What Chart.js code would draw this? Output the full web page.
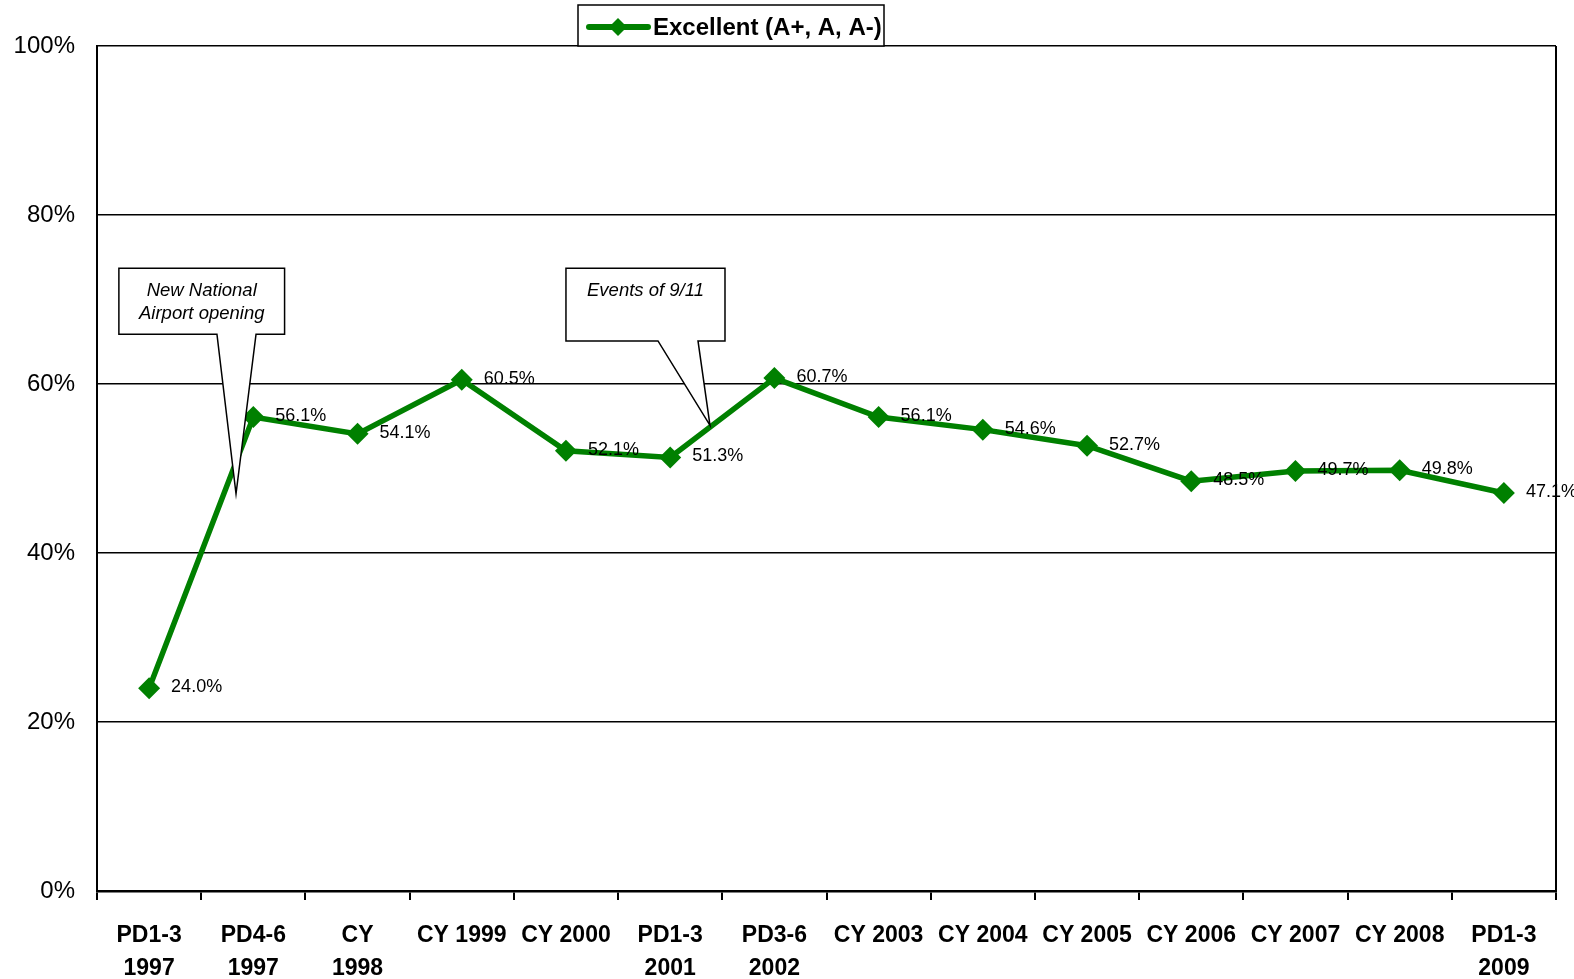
<!DOCTYPE html>
<html lang="en">
<head>
<meta charset="utf-8">
<title>Excellent ratings</title>
<script src="https://cdn.jsdelivr.net/npm/chart.js@4/dist/chart.umd.min.js"></script>
<style>
  html, body { margin: 0; padding: 0; background: #fff; }
  #wrap { width: 1574px; height: 979px; }
</style>
</head>
<body>
<div id="wrap"><canvas id="chart"></canvas></div>
<script>
// data
const periods = [
  ['PD1-3', '1997'], ['PD4-6', '1997'], ['CY', '1998'], 'CY 1999', 'CY 2000',
  ['PD1-3', '2001'], ['PD3-6', '2002'], 'CY 2003', 'CY 2004', 'CY 2005',
  'CY 2006', 'CY 2007', 'CY 2008', ['PD1-3', '2009']
];
const excellent = [24.0, 56.1, 54.1, 60.5, 52.1, 51.3, 60.7, 56.1, 54.6, 52.7, 48.5, 49.7, 49.8, 47.1];
const yTicks = [0, 20, 40, 60, 80, 100];

const green = '#008000';
const font = '"Liberation Sans", Arial, sans-serif';

// callouts, in axis units (category index, percent)
const callouts = [
  { lines: ['New National', 'Airport opening'], x0: -0.29, x1: 1.30, y0: 73.7, y1: 65.9,
    base: [0.651, 1.026], tip: [0.834, 47.0] },
  { lines: ['Events of 9/11'], x0: 4.0, x1: 5.526, y0: 73.7, y1: 65.1,
    base: [4.883, 5.267], tip: [5.382, 55.1] }
];

const extras = {
  id: 'extras',
  afterDatasetsDraw(chart) {
    const ctx = chart.ctx;
    const a = chart.chartArea;
    const xs = chart.scales.x, ys = chart.scales.y;
    ctx.save();
    // right frame line
    ctx.strokeStyle = '#000';
    ctx.lineWidth = 2;
    ctx.beginPath();
    ctx.moveTo(a.right, a.top);
    ctx.lineTo(a.right, a.bottom);
    ctx.stroke();

    // value labels
    const meta = chart.getDatasetMeta(0);
    ctx.fillStyle = '#000';
    ctx.font = '18px ' + font;
    ctx.textAlign = 'left';
    ctx.textBaseline = 'middle';
    meta.data.forEach((pt, i) => {
      ctx.fillText(excellent[i].toFixed(1) + '%', pt.x + 22, pt.y - 1);
    });

    // callouts
    callouts.forEach(c => {
      const l = xs.getPixelForValue(c.x0), r = xs.getPixelForValue(c.x1);
      const t = ys.getPixelForValue(c.y0), b = ys.getPixelForValue(c.y1);
      const b0 = xs.getPixelForValue(c.base[0]), b1 = xs.getPixelForValue(c.base[1]);
      const tx = xs.getPixelForValue(c.tip[0]), ty = ys.getPixelForValue(c.tip[1]);
      ctx.fillStyle = '#fff';
      ctx.strokeStyle = '#000';
      ctx.lineWidth = 1.5;
      ctx.beginPath();
      ctx.moveTo(l, t);
      ctx.lineTo(r, t);
      ctx.lineTo(r, b);
      ctx.lineTo(b1, b);
      ctx.lineTo(tx, ty);
      ctx.lineTo(b0, b);
      ctx.lineTo(l, b);
      ctx.closePath();
      ctx.fill();
      ctx.stroke();
      ctx.fillStyle = '#000';
      ctx.font = 'italic 18.5px ' + font;
      ctx.textAlign = 'center';
      ctx.textBaseline = 'middle';
      c.lines.forEach((s, k) => ctx.fillText(s, (l + r) / 2, t + 23 + k * 23));
    });

    // legend box
    const lx = 578, ly = 5, lw = 306, lh = 41;
    ctx.fillStyle = '#fff';
    ctx.fillRect(lx, ly, lw, lh);
    ctx.strokeStyle = '#000';
    ctx.lineWidth = 1.5;
    ctx.strokeRect(lx, ly, lw, lh);
    ctx.strokeStyle = green;
    ctx.lineWidth = 6;
    ctx.lineCap = 'round';
    ctx.beginPath();
    ctx.moveTo(589, 27);
    ctx.lineTo(648, 27);
    ctx.stroke();
    ctx.fillStyle = green;
    ctx.beginPath();
    ctx.moveTo(618, 18); ctx.lineTo(627, 27); ctx.lineTo(618, 36); ctx.lineTo(609, 27);
    ctx.closePath();
    ctx.fill();
    ctx.fillStyle = '#000';
    ctx.font = 'bold 24px ' + font;
    ctx.textAlign = 'left';
    ctx.textBaseline = 'middle';
    ctx.fillText(chart.data.datasets[0].label, 653, 28);
    ctx.restore();
  }
};

new Chart(document.getElementById('chart'), {
  type: 'line',
  data: {
    labels: periods,
    datasets: [{
      label: 'Excellent (A+, A, A-)',
      data: excellent,
      borderColor: green,
      backgroundColor: green,
      borderWidth: 5.5,
      pointStyle: 'rectRot',
      pointRadius: 11,
      pointHoverRadius: 11,
      pointBackgroundColor: green,
      pointBorderColor: green,
      pointBorderWidth: 0,
      tension: 0
    }]
  },
  options: {
    responsive: true,
    maintainAspectRatio: false,
    animation: false,
    layout: { padding: { top: 46, right: 18, left: 0, bottom: 0 } },
    plugins: {
      legend: { display: false },
      tooltip: { enabled: false }
    },
    scales: {
      x: {
        offset: true,
        grid: {
          offset: true,
          drawOnChartArea: false,
          drawTicks: true,
          tickLength: 9,
          color: '#000',
          lineWidth: 2
        },
        border: { color: '#000', width: 2.5 },
        ticks: {
          color: '#000',
          font: { family: font, size: 23, weight: 'bold', lineHeight: 1.4 },
          padding: 20,
          maxRotation: 0,
          autoSkip: false
        },
        afterFit(scale) { scale.height = 88; }
      },
      y: {
        min: 0,
        max: 100,
        afterBuildTicks(scale) { scale.ticks = yTicks.map(v => ({ value: v })); },
        grid: { color: '#000', lineWidth: 1.5, drawTicks: false },
        border: { color: '#000', width: 2 },
        ticks: {
          color: '#000',
          font: { family: font, size: 24 },
          padding: 22,
          callback: v => v + '%'
        },
        afterFit(scale) { scale.width = 97; }
      }
    }
  },
  plugins: [extras]
});
</script>
</body>
</html>
